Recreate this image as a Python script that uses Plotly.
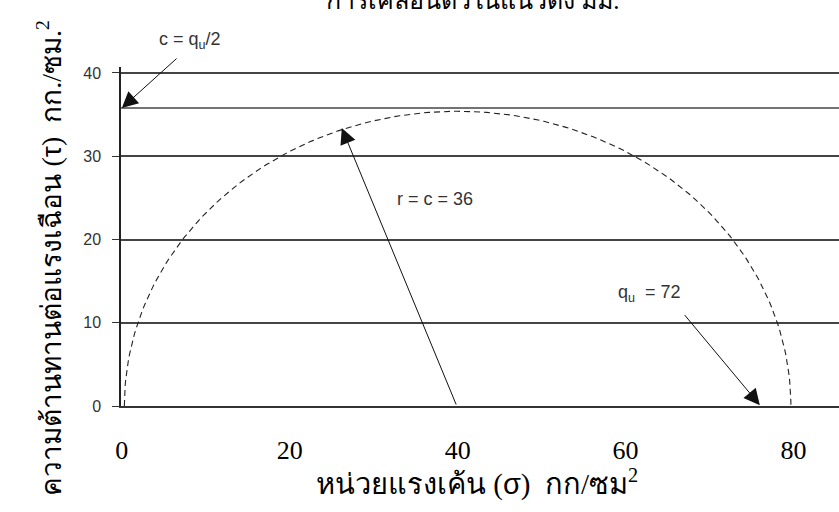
import numpy as np
import plotly.graph_objects as go

# ---- data ----
sigma_ticks = [0, 20, 40, 60, 80]          # x tick labels (kg/cm^2)
tau_ticks = [0, 10, 20, 30, 40]            # y tick labels
circle_center = 40.0                       # Mohr circle centre on sigma axis
circle_rx = 39.7                           # horizontal half-width as drawn
circle_ry = 35.4                           # top of circle as drawn
c_line = 35.8                              # cohesion line c = qu/2

# annotation anchor points (data units)
c_label = (8.1, 43.9)
c_arrow_tail = (6.7, 41.9)
c_arrow_tip = (0.0, 35.8)
r_label = (37.3, 24.9)
r_arrow_tail = (39.9, 0.0)
r_arrow_tip = (26.2, 33.4)
qu_label = (62.9, 13.5)
qu_arrow_tail = (66.9, 11.1)
qu_arrow_tip = (76.0, 0.1)

SERIF = "Liberation Serif, Times New Roman, serif"
SANS = "Liberation Sans, Arial, sans-serif"

Y_TOP = 40.72

theta = np.linspace(np.pi, 0, 181)
cx = circle_center + circle_rx * np.cos(theta)
cy = circle_ry * np.sin(theta)

fig = go.Figure()
fig.add_trace(go.Scatter(x=cx, y=cy, mode="lines",
                         line=dict(color="#222222", width=1.1, dash="6px,4px"),
                         hoverinfo="skip", showlegend=False))

fig.add_shape(type="line", xref="x", yref="y", x0=-0.1, x1=86, y0=c_line, y1=c_line,
              line=dict(color="#444444", width=1.5), layer="below")

def arrow(tail, tip):
    fig.add_annotation(x=tip[0], y=tip[1], ax=tail[0], ay=tail[1],
                       xref="x", yref="y", axref="x", ayref="y",
                       text="", showarrow=True, arrowhead=2, arrowsize=3.2,
                       arrowwidth=1, arrowcolor="#111111", standoff=0)

def label(pos, text, yref="y"):
    y = pos[1] if yref == "y" else pos[1] / Y_TOP
    fig.add_annotation(x=pos[0], y=y, xref="x", yref=yref, text=text,
                       xanchor="center", yanchor="middle",
                       showarrow=False, font=dict(family=SANS, size=18, color="#333333"))

arrow(c_arrow_tail, c_arrow_tip)
arrow(r_arrow_tail, r_arrow_tip)
arrow(qu_arrow_tail, qu_arrow_tip)
label(c_label, "c = q<sub>u</sub>/2", yref="paper")
label(r_label, "r = c = 36")
label(qu_label, "q<sub>u</sub>  = 72")

# partially visible title at the top edge
fig.add_annotation(x=0.49, y=1.15, xref="paper", yref="paper", yanchor="bottom",
                   text="การเคลื่อนตัวในแนวดิ่ง มม.", showarrow=False,
                   font=dict(family=SERIF, size=25, color="black"))
# axis titles
fig.add_annotation(x=0.496, y=-0.285, xref="paper", yref="paper",
                   text="หน่วยแรงเค้น (<span style='font-family:Liberation Sans'>σ</span>)  กก/ซม<sup>2</sup>",
                   showarrow=False, font=dict(family=SERIF, size=29, color="black"))
fig.add_annotation(x=-0.127, y=0.436, xref="paper", yref="paper", textangle=-90,
                   text="ความต้านทานต่อแรงเฉือน (<span style='font-family:Liberation Sans'>τ</span>)  กก./ซม.<sup>2</sup>",
                   showarrow=False, font=dict(family=SERIF, size=28, color="black"))

fig.update_layout(
    width=839, height=512,
    margin=dict(l=121, r=0, t=67, b=106),
    paper_bgcolor="white", plot_bgcolor="white",
    xaxis=dict(range=[-0.1, 85.43], tickvals=sigma_ticks, ticktext=[str(v) for v in sigma_ticks],
               showgrid=False, zeroline=False, showline=True, linecolor="#333333", linewidth=1.5,
               ticks="", ticklabelstandoff=20,
               tickfont=dict(family=SERIF, size=26, color="black")),
    yaxis=dict(range=[0, Y_TOP], tickvals=tau_ticks, ticktext=[str(v) for v in tau_ticks],
               showgrid=True, gridcolor="#444444", gridwidth=1.5, zeroline=False,
               showline=True, linecolor="#222222", linewidth=1.5,
               ticks="outside", ticklen=7, tickcolor="#333333", ticklabelstandoff=8,
               tickfont=dict(family=SANS, size=16, color="#333333")),
    showlegend=False,
)

fig.write_html("out.html", config={"displayModeBar": False},
               post_script="document.body.style.margin='0';document.body.style.overflow='hidden';")
